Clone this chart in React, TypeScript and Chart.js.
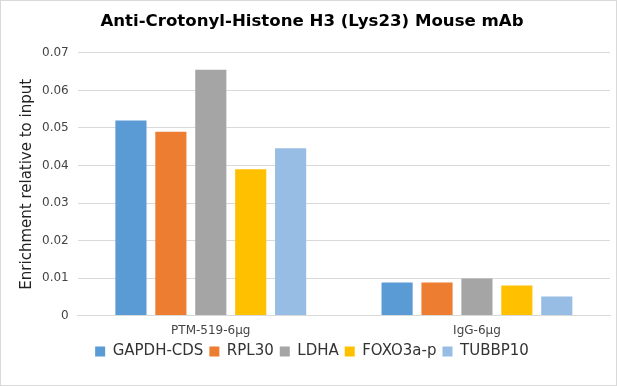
import React, { useEffect, useRef } from "react";
import { Chart, registerables } from "chart.js";

Chart.register(...registerables);

const categories = ["PTM-519-6μg", "IgG-6μg"];
const seriesNames = ["GAPDH-CDS", "RPL30", "LDHA", "FOXO3a-p", "TUBBP10"];
const gapdh = [0.052, 0.0088];
const rpl30 = [0.049, 0.0088];
const ldha = [0.0655, 0.0099];
const foxo3a = [0.039, 0.008];
const tubbp10 = [0.0446, 0.0051];
const colors = ["#5B9BD5", "#ED7D31", "#A5A5A5", "#FFC000", "#98BDE4"];
const yTicks = [0, 0.01, 0.02, 0.03, 0.04, 0.05, 0.06, 0.07];

const FONT = "'DejaVu Sans', Verdana, sans-serif";

export default function App() {
  const ref = useRef<HTMLCanvasElement>(null);
  useEffect(() => {
    const values = [gapdh, rpl30, ldha, foxo3a, tubbp10];
    const chart = new Chart(ref.current!, {
      type: "bar",
      data: {
        labels: categories,
        datasets: seriesNames.map((n, i) => ({
          label: n,
          data: values[i],
          backgroundColor: colors[i],
          borderWidth: 0,
          categoryPercentage: 0.75,
          barPercentage: 0.78,
        })),
      },
      options: {
        animation: false,
        responsive: false,
        maintainAspectRatio: false,
        layout: { padding: { left: 13, right: 6, top: 0, bottom: 16 } },
        plugins: {
          title: {
            display: true,
            text: "Anti-Crotonyl-Histone H3 (Lys23) Mouse mAb",
            color: "#000",
            font: { family: FONT, size: 16.6, weight: "bold" },
            padding: { top: 11, bottom: 21 },
          },
          legend: {
            position: "bottom",
            labels: {
              color: "#333",
              font: { family: FONT, size: 15 },
              boxWidth: 10,
              boxHeight: 10,
              padding: 6,
            },
          },
          tooltip: { enabled: false },
        },
        scales: {
          x: {
            grid: { display: false },
            border: { color: "#D9D9D9" },
            ticks: { color: "#444", font: { family: FONT, size: 12 }, padding: 0 },
          },
          y: {
            min: 0,
            max: 0.07,
            afterBuildTicks: (axis: any) => {
              axis.ticks = yTicks.map((v) => ({ value: v }));
            },
            grid: { color: "#D9D9D9", drawTicks: false },
            border: { display: false },
            ticks: {
              color: "#444",
              font: { family: FONT, size: 12 },
              padding: 9,
              callback: (v: any) => (v === 0 ? "0" : Number(v).toFixed(2)),
            },
            title: {
              display: true,
              text: "Enrichment relative to input",
              color: "#222",
              font: { family: FONT, size: 15 },
              padding: { top: 4, bottom: -3 },
            },
          },
        },
      },
    });
    return () => chart.destroy();
  }, []);
  return (
    <div
      style={{
        position: "fixed",
        left: 0,
        top: 0,
        width: 617,
        height: 386,
        boxSizing: "border-box",
        border: "1px solid #D9D9D9",
        background: "#fff",
      }}
    >
      <canvas ref={ref} width={615} height={384} style={{ display: "block" }} />
    </div>
  );
}
